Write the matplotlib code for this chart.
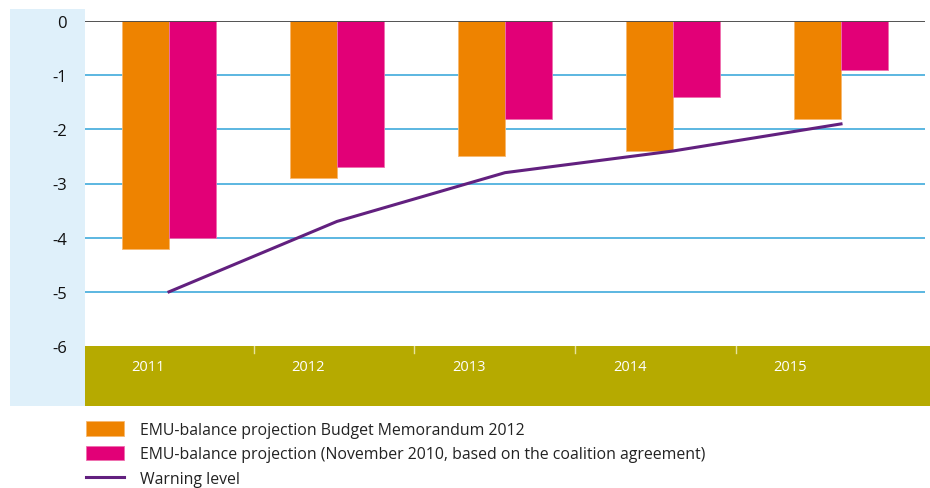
import matplotlib
matplotlib.use("Agg")
import matplotlib.pyplot as plt
import numpy as np

plt.rcParams['font.family'] = ['Open Sans', 'DejaVu Sans']

years = ["2011", "2012", "2013", "2014", "2015"]
budget_memo_2012 = [-4.2, -2.9, -2.5, -2.4, -1.8]
projection_nov_2010 = [-4.0, -2.7, -1.8, -1.4, -0.9]
warning_level = [-5.0, -3.7, -2.8, -2.4, -1.9]
y_ticks = [0, -1, -2, -3, -4, -5, -6]

labels = ["EMU-balance projection Budget Memorandum 2012",
          "EMU-balance projection (November 2010, based on the coalition agreement)",
          "Warning level"]

ORANGE = "#ee8300"
PINK = "#e20077"
PURPLE = "#62207f"
GRID = "#4eb1de"
OLIVE = "#b6aa00"
LIGHTBLUE = "#dff0fa"

W, H = 930, 489
fig = plt.figure(figsize=(W / 100, H / 100), dpi=100)

def fx(px):
    return px / W

def fy(py):
    return 1 - py / H

# light blue box behind y labels
bg = fig.add_axes([fx(10), fy(407), fx(75), 397 / H], zorder=0)
bg.set_facecolor(LIGHTBLUE)
bg.set_xticks([])
bg.set_yticks([])
for s in bg.spines.values():
    s.set_visible(False)

ax = fig.add_axes([fx(85), fy(347), fx(925 - 85), (347 - 22) / H], zorder=2)
x = np.arange(len(years))
bw = 0.28
ax.bar(x - bw / 2, budget_memo_2012, width=bw, color=ORANGE,
       edgecolor="#f7b870", linewidth=0.6, zorder=3, label=labels[0])
ax.bar(x + bw / 2, projection_nov_2010, width=bw, color=PINK,
       edgecolor="#ee6fae", linewidth=0.6, zorder=3, label=labels[1])
ax.plot(x, warning_level, color=PURPLE, linewidth=2.2, zorder=4,
        label=labels[2])

ax.set_xlim(-0.5, len(years) - 0.5)
ax.set_ylim(-6, 0)
ax.set_yticks(y_ticks)
ax.set_yticklabels([str(v) for v in y_ticks], fontsize=12, color="#111111")
ax.tick_params(axis='y', length=0, pad=13)
ax.set_xticks([])
for v in y_ticks[1:-1]:
    ax.axhline(v, color=GRID, linewidth=1.3, zorder=1)
ax.axhline(0, color="#444444", linewidth=1.3, zorder=5)
for s in ax.spines.values():
    s.set_visible(False)
ax.patch.set_alpha(0)

# olive band with year labels
band = fig.add_axes([fx(85), fy(407), fx(930 - 85), 60 / H], zorder=1)
band.set_facecolor(OLIVE)
band.set_xlim(-0.39, 4.87)
band.set_ylim(0, 1)
for s in band.spines.values():
    s.set_visible(False)
band.set_yticks([])
band.set_xticks([])
for i, yr in enumerate(years):
    band.text(i, 0.66, yr, color="white", fontsize=10.5, ha="center", va="center")
for i in range(len(years) - 1):
    band.plot([i + 0.66, i + 0.66], [1, 0.88], color="#e8e3a0", linewidth=1)

handles, lbls = ax.get_legend_handles_labels()
order = [lbls.index(l) for l in labels]
fig.legend([handles[i] for i in order], [lbls[i] for i in order],
           loc="upper left",
           bbox_to_anchor=(fx(86), fy(422)), frameon=False, fontsize=11.4,
           handlelength=2.4, handleheight=1.05, handletextpad=1.0,
           labelspacing=0.5, borderaxespad=0, borderpad=0,
           labelcolor="#222222")

fig.savefig("out.png", dpi=100)
